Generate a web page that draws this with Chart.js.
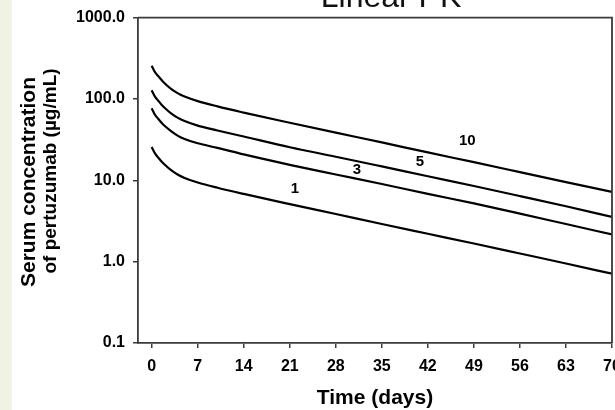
<!DOCTYPE html>
<html lang="en">
<head>
    <meta charset="UTF-8">
    <title>Linear PK</title>
    <script src="https://cdn.jsdelivr.net/npm/chart.js"></script>
    <style>
        body {
            margin: 0;
            padding: 0;
            background: #ffffff;
        }
        #wrap {
            width: 615px;
            height: 410px;
        }
    </style>
</head>
<body>
    <div id="wrap"><canvas id="pkChart" width="615" height="410"></canvas></div>

    <script>
        // time points (days)
        const days = [0, 0.5, 1, 1.5, 2, 3, 4, 5, 7, 10, 14, 21, 28, 35, 42, 49, 56, 63, 70];

        // serum concentration (ug/mL), one series per dose (mg/kg)
        const conc1  = [25.6, 21.4, 19, 17, 15.5, 13.2, 11.7, 10.7, 9.4, 8.1, 6.8, 5.1, 3.85, 2.9, 2.2, 1.67, 1.26, 0.95, 0.71];
        const conc3  = [77, 64, 57, 51, 46.5, 40, 35.2, 32.2, 28.5, 25, 20.8, 15.5, 11.8, 9, 6.8, 5.2, 3.9, 2.9, 2.16];
        const conc5  = [128, 107, 95, 85, 77.5, 66, 58.5, 53.5, 47, 41, 34.5, 25.5, 19.5, 14.8, 11.2, 8.5, 6.4, 4.8, 3.55];
        const conc10 = [256, 214, 191, 171, 155, 132, 117, 107, 94, 81, 68, 51, 38.5, 29.2, 22, 16.7, 12.6, 9.5, 7.2];

        const doseNames = ["1", "3", "5", "10"];
        // where each dose label sits (day, concentration)
        const labelDays = [21.8, 31.2, 40.8, 48.0];
        const labelConc = [7.9, 13.4, 16.8, 30.2];

        const xTicks = [0, 7, 14, 21, 28, 35, 42, 49, 56, 63, 70];
        const yTicks = [0.1, 1, 10, 100, 1000];

        const series = [conc1, conc3, conc5, conc10];

        const axisCol = "#3a3a3a";
        const tickFont = { family: "'Liberation Sans', Arial, sans-serif", size: 16, weight: "bold" };

        // background, title, frame, axis titles and dose labels
        const decor = {
            id: "decor",
            beforeDraw(chart) {
                const c = chart.ctx;
                c.save();
                c.fillStyle = "#ffffff";
                c.fillRect(0, 0, chart.width, chart.height);
                c.fillStyle = "#eff2e4";
                c.fillRect(0, 0, 12, chart.height);
                c.restore();
            },
            afterDraw(chart) {
                const c = chart.ctx;
                const a = chart.chartArea;
                const xs = chart.scales.x, ys = chart.scales.y;
                c.save();

                // top + right sides of the box
                c.strokeStyle = axisCol;
                c.lineWidth = 1.8;
                c.beginPath();
                c.moveTo(a.left, a.top);
                c.lineTo(a.right, a.top);
                c.lineTo(a.right, a.bottom);
                c.stroke();

                // slide title, mostly cut off at the top
                c.fillStyle = "#111";
                c.font = "32px 'Liberation Sans', Arial, sans-serif";
                c.textAlign = "center";
                c.textBaseline = "alphabetic";
                c.fillText("Linear PK", 391, 7);

                // x title
                c.fillStyle = "#000";
                c.font = "bold 21px 'Liberation Sans', Arial, sans-serif";
                c.textBaseline = "middle";
                c.fillText("Time (days)", (a.left + a.right) / 2, 398);

                // y title, two lines
                c.save();
                c.translate(35, 182);
                c.rotate(-Math.PI / 2);
                c.textBaseline = "alphabetic";
                c.font = "bold 21px 'Liberation Sans', Arial, sans-serif";
                c.fillText("Serum concentration", 0, 0);
                c.restore();
                c.save();
                c.translate(56, 171);
                c.rotate(-Math.PI / 2);
                c.textBaseline = "alphabetic";
                c.font = "bold 19px 'Liberation Sans', Arial, sans-serif";
                c.fillText("of pertuzumab (\u00b5g/mL)", 0, 0);
                c.restore();

                // dose labels
                c.font = "bold 15px 'Liberation Sans', Arial, sans-serif";
                c.textBaseline = "middle";
                doseNames.forEach((n, i) => {
                    c.fillText(n, xs.getPixelForValue(labelDays[i]), ys.getPixelForValue(labelConc[i]));
                });
                c.restore();
            }
        };

        new Chart(document.getElementById("pkChart"), {
            type: "line",
            data: {
                datasets: series.map((s, i) => ({
                    label: doseNames[i],
                    data: days.map((d, j) => ({ x: d, y: s[j] })),
                    borderColor: "#000",
                    borderWidth: 2.2,
                    pointRadius: 0,
                    fill: false,
                    cubicInterpolationMode: "monotone"
                }))
            },
            options: {
                responsive: false,
                animation: false,
                devicePixelRatio: 1,
                layout: { padding: { top: 14, right: 3, left: 0, bottom: 0 } },
                plugins: {
                    legend: { display: false },
                    tooltip: { enabled: false }
                },
                scales: {
                    x: {
                        type: "linear",
                        min: -2.08,
                        max: 70,
                        afterBuildTicks: s => { s.ticks = xTicks.map(v => ({ value: v })); },
                        afterFit: s => { s.height = 67; s.paddingLeft = 0; s.paddingRight = 0; },
                        border: { display: true, color: axisCol, width: 1.8 },
                        grid: { display: true, drawOnChartArea: false, drawTicks: true, tickLength: 5, color: axisCol, lineWidth: 1.5 },
                        ticks: { color: "#000", font: tickFont, padding: 9, maxRotation: 0, autoSkip: false },
                        title: { display: false }
                    },
                    y: {
                        type: "logarithmic",
                        min: 0.1,
                        max: 1000,
                        afterBuildTicks: s => { s.ticks = yTicks.map(v => ({ value: v })); },
                        afterFit: s => { s.width = 138; },
                        border: { display: true, color: axisCol, width: 1.8 },
                        grid: { display: true, drawOnChartArea: false, drawTicks: true, tickLength: 5, color: axisCol, lineWidth: 1.5 },
                        ticks: {
                            color: "#000",
                            font: tickFont,
                            padding: 8,
                            autoSkip: false,
                            callback: v => Number(v).toFixed(1)
                        },
                        title: { display: false }
                    }
                }
            },
            plugins: [decor]
        });
    </script>
</body>
</html>
